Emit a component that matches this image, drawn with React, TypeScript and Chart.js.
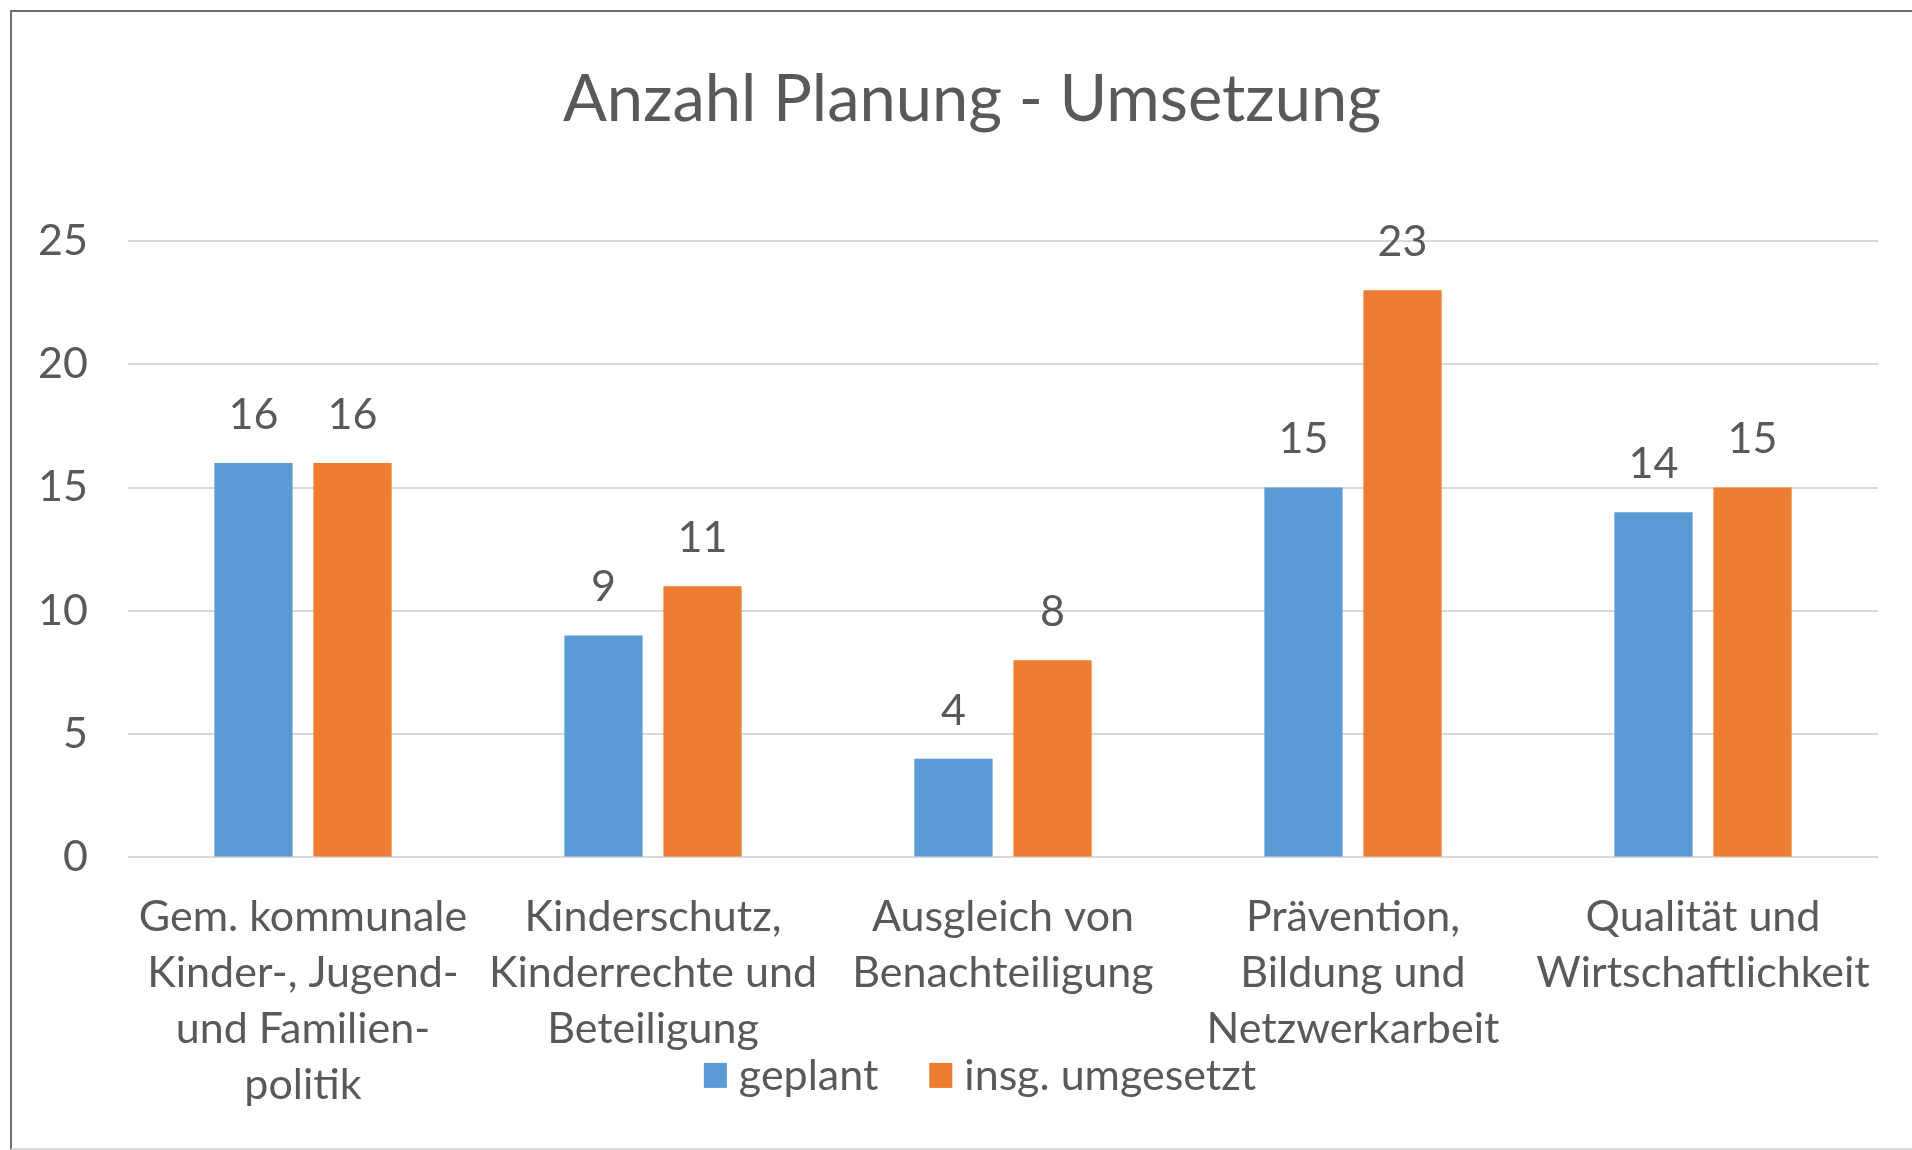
import React, { useEffect, useRef } from "react";
import { Chart, registerables } from "chart.js";

Chart.register(...registerables);

const chartTitle = "Anzahl Planung - Umsetzung";
const categories: string[][] = [
  ["Gem. kommunale", "Kinder-, Jugend-", "und Familien-", "politik"],
  ["Kinderschutz,", "Kinderrechte und", "Beteiligung"],
  ["Ausgleich von", "Benachteiligung"],
  ["Prävention,", "Bildung und", "Netzwerkarbeit"],
  ["Qualität und", "Wirtschaftlichkeit"],
];
const seriesNames = ["geplant", "insg. umgesetzt"];
const geplant = [16, 9, 4, 15, 14];
const umgesetzt = [16, 11, 8, 23, 15];
const seriesColors = ["#5B9BD5", "#ED7D31"];
const yMin = 0;
const yMax = 25;
const yStep = 5;

const FONT = "Lato, Carlito, Calibri, 'Noto Sans', sans-serif";
const TEXT = "#595959";
const GRID = "#d9d9d9";
const LABEL_SIZE = 43;

const valueLabels = {
  id: "valueLabels",
  afterDatasetsDraw(chart: any) {
    const ctx = chart.ctx;
    ctx.save();
    ctx.font = `${LABEL_SIZE}px ${FONT}`;
    ctx.fillStyle = TEXT;
    ctx.textAlign = "center";
    ctx.textBaseline = "middle";
    chart.data.datasets.forEach((ds: any, i: number) => {
      const meta = chart.getDatasetMeta(i);
      meta.data.forEach((bar: any, j: number) => {
        ctx.fillText(String(ds.data[j]), bar.x, bar.y - 48);
      });
    });
    ctx.restore();
  },
};

// Excel centres the title on a chart frame that starts further left than
// the y tick labels need; shift the title block accordingly.
const titleShift = {
  id: "titleShift",
  afterLayout(chart: any) {
    const tb = chart.titleBlock;
    if (tb) tb.left = 66;
  },
};

const customLegend = {
  id: "customLegend",
  afterDraw(chart: any) {
    const ctx = chart.ctx;
    ctx.save();
    ctx.font = `${LABEL_SIZE}px ${FONT}`;
    ctx.textBaseline = "middle";
    ctx.textAlign = "left";
    const boxW = 23;
    const boxH = 25;
    const gapText = 12;
    const gapItem = 51;
    const ds = chart.data.datasets;
    const widths = ds.map((d: any) => ctx.measureText(d.label).width);
    let total = 0;
    widths.forEach((w: number, i: number) => {
      total += boxW + gapText + w + (i > 0 ? gapItem : 0);
    });
    const tb = chart.titleBlock;
    const cx = (tb.left + tb.right) / 2 + 8;
    const cy = chart.chartArea.bottom + 218;
    let x = cx - total / 2;
    ds.forEach((d: any, i: number) => {
      ctx.fillStyle = d.backgroundColor;
      ctx.fillRect(x, cy - boxH / 2, boxW, boxH);
      x += boxW + gapText;
      ctx.fillStyle = TEXT;
      ctx.fillText(d.label, x, cy + 1);
      x += widths[i] + gapItem;
    });
    ctx.restore();
  },
};

export default function App() {
  const ref = useRef<HTMLCanvasElement | null>(null);

  useEffect(() => {
    if (!ref.current) return;
    const chart = new Chart(ref.current, {
      type: "bar",
      data: {
        labels: categories,
        datasets: [
          {
            label: seriesNames[0],
            data: geplant,
            backgroundColor: seriesColors[0],
            categoryPercentage: 0.566,
            barPercentage: 0.79,
          },
          {
            label: seriesNames[1],
            data: umgesetzt,
            backgroundColor: seriesColors[1],
            categoryPercentage: 0.566,
            barPercentage: 0.79,
          },
        ],
      },
      options: {
        responsive: false,
        animation: false,
        devicePixelRatio: 1,
        layout: { padding: { left: 30, right: 34, top: 0, bottom: 13 } },
        plugins: {
          legend: { display: false },
          tooltip: { enabled: false },
          title: {
            display: true,
            text: chartTitle,
            color: TEXT,
            font: { family: FONT, size: 65, weight: "normal", lineHeight: 1.2 },
            padding: { top: 61, bottom: 102 },
          },
        },
        scales: {
          x: {
            grid: { display: false },
            border: { display: false },
            ticks: {
              color: TEXT,
              padding: 24,
              maxRotation: 0,
              autoSkip: false,
              font: { family: FONT, size: LABEL_SIZE, lineHeight: 1.3 },
            },
          },
          y: {
            min: yMin,
            max: yMax,
            grid: { color: GRID, lineWidth: 2, drawTicks: false },
            border: { display: false },
            ticks: {
              stepSize: yStep,
              color: TEXT,
              padding: 40,
              font: { family: FONT, size: LABEL_SIZE },
            },
            afterFit: (scale: any) => {
              scale.width = 98;
            },
          },
        },
      },
      plugins: [titleShift, valueLabels, customLegend],
    });
    return () => chart.destroy();
  }, []);

  return (
    <div>
      <div
        style={{
          position: "fixed",
          left: 10,
          top: 10,
          width: 1902,
          height: 1140,
          boxSizing: "border-box",
          borderLeft: "2px solid #707070",
          borderTop: "2px solid #707070",
          borderBottom: "2px solid #d9d9d9",
          background: "#fff",
        }}
      />
      <canvas
        ref={ref}
        width={1912}
        height={1150}
        style={{ position: "fixed", left: 0, top: 0, width: 1912, height: 1150 }}
      />
    </div>
  );
}
